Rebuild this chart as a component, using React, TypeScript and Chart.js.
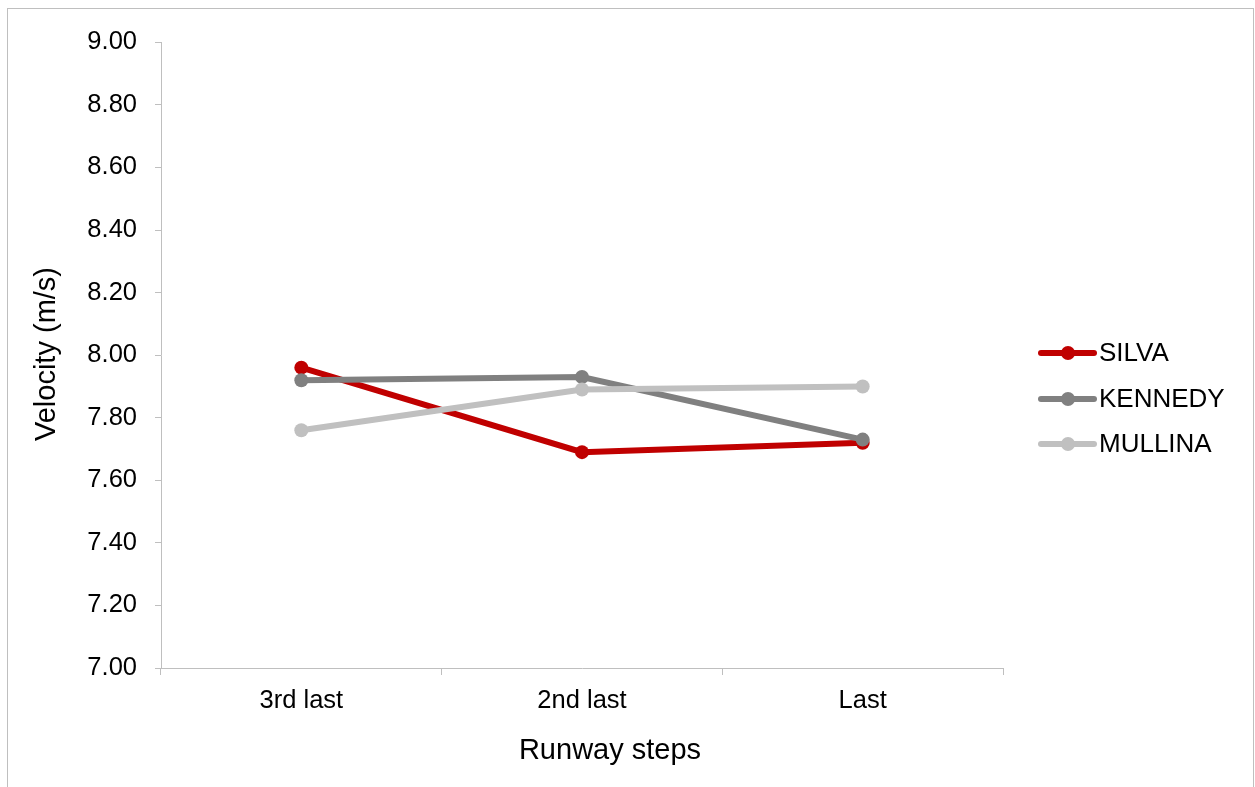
import React, { useEffect, useRef } from "react";
import { Chart, registerables } from "chart.js";

Chart.register(...registerables);

// Approach velocity over the final three runway steps
const steps = ["3rd last", "2nd last", "Last"];
const silva = [7.96, 7.69, 7.72];
const kennedy = [7.92, 7.93, 7.73];
const mullina = [7.76, 7.89, 7.9];
const seriesNames = ["SILVA", "KENNEDY", "MULLINA"];
const seriesColors = ["#c00000", "#808080", "#c0c0c0"];
const yMin = 7;
const yMax = 9;
const yStep = 0.2;
const xTitle = "Runway steps";
const yTitle = "Velocity (m/s)";

const FONT = "'Liberation Sans', Arial, sans-serif";
const AXIS_GREY = "#bfbfbf";

const W = 1245;
const H = 779;

// Axis titles and the right-hand legend (line + dot + series name)
const annotations = {
  id: "annotations",
  afterDraw(chart: any) {
    const ctx = chart.ctx;
    ctx.save();
    ctx.fillStyle = "#000";
    ctx.font = `29px ${FONT}`;
    ctx.textAlign = "center";
    ctx.textBaseline = "middle";
    ctx.fillText(xTitle, 602, 742);
    ctx.save();
    ctx.translate(39, 345);
    ctx.rotate(-Math.PI / 2);
    ctx.fillText(yTitle, 0, 0);
    ctx.restore();

    const rows = [344, 390, 435];
    chart.data.datasets.forEach((ds: any, i: number) => {
      const y = rows[i];
      ctx.strokeStyle = ds.borderColor;
      ctx.lineWidth = 6;
      ctx.lineCap = "round";
      ctx.beginPath();
      ctx.moveTo(1033, y);
      ctx.lineTo(1086, y);
      ctx.stroke();
      ctx.fillStyle = ds.borderColor;
      ctx.beginPath();
      ctx.arc(1060, y, 7, 0, Math.PI * 2);
      ctx.fill();
      ctx.fillStyle = "#000";
      ctx.font = `26px ${FONT}`;
      ctx.textAlign = "left";
      ctx.textBaseline = "middle";
      ctx.fillText(ds.label, 1091, y + 1);
    });
    ctx.restore();
  },
};

export default function App() {
  const ref = useRef<HTMLCanvasElement | null>(null);

  useEffect(() => {
    if (!ref.current) return;
    const values = [silva, kennedy, mullina];
    const chart = new Chart(ref.current, {
      type: "line",
      data: {
        labels: steps,
        datasets: seriesNames.map((name, i) => ({
          label: name,
          data: values[i],
          borderColor: seriesColors[i],
          backgroundColor: seriesColors[i],
          pointBackgroundColor: seriesColors[i],
          pointBorderWidth: 0,
          pointRadius: 7,
          borderWidth: 6,
          tension: 0,
          order: seriesNames.length - i,
        })),
      },
      options: {
        animation: false,
        responsive: false,
        devicePixelRatio: 1,
        layout: { padding: { top: 30, right: 250, left: 0, bottom: 0 } },
        plugins: {
          legend: { display: false },
          tooltip: { enabled: false },
        },
        scales: {
          x: {
            offset: true,
            afterFit(scale: any) {
              scale.height = 120;
            },
            grid: {
              offset: true,
              drawOnChartArea: false,
              drawTicks: true,
              tickLength: 7,
              color: AXIS_GREY,
            },
            border: { color: AXIS_GREY, width: 1 },
            ticks: {
              color: "#000",
              padding: 11,
              font: { family: FONT, size: 25.5 },
            },
          },
          y: {
            min: yMin,
            max: yMax,
            afterFit(scale: any) {
              scale.width = 153;
            },
            grid: {
              drawOnChartArea: false,
              drawTicks: true,
              tickLength: 6,
              color: AXIS_GREY,
            },
            border: { color: AXIS_GREY, width: 1 },
            ticks: {
              stepSize: yStep,
              color: "#000",
              padding: 18,
              font: { family: FONT, size: 25.5 },
              callback: (v: any) => Number(v).toFixed(2),
            },
          },
        },
      },
      plugins: [annotations],
    });
    return () => chart.destroy();
  }, []);

  return (
    <div
      style={{
        position: "fixed",
        left: 7,
        top: 8,
        width: 1247,
        height: 800,
        boxSizing: "border-box",
        border: `1px solid ${AXIS_GREY}`,
        background: "#fff",
      }}
    >
      <canvas
        ref={ref}
        width={W}
        height={H}
        style={{ display: "block", width: W, height: H }}
      />
    </div>
  );
}
